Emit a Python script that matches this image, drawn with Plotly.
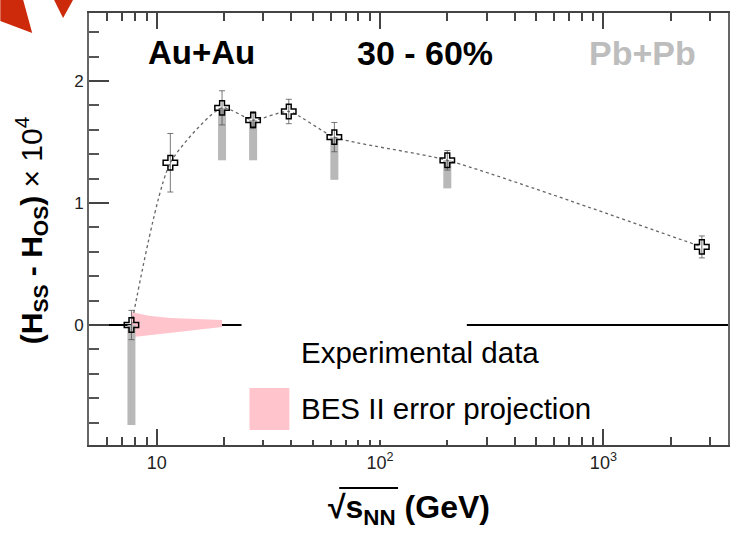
import plotly.graph_objects as go
import numpy as np

# ---- data ----
energy = [7.7, 11.5, 19.6, 27, 39, 62.4, 200, 2760]
value = [0.0, 1.33, 1.78, 1.68, 1.75, 1.54, 1.35, 0.64]
stat_err = [0.12, 0.24, 0.14, 0.07, 0.10, 0.12, 0.08, 0.09]
sys_down = [0.82, 0.0, 0.43, 0.33, 0.0, 0.35, 0.23, 0.0]

bes_energy = [7.7, 9.2, 11.5, 14.5, 19.6]
bes_upper = [0.107, 0.075, 0.057, 0.047, 0.040]
bes_lower = [-0.100, -0.085, -0.065, -0.045, -0.016]

x_major = [10, 100, 1000]
x_major_labels = ["10", "10<sup>2</sup>", "10<sup>3</sup>"]
x_minor = [5, 6, 7, 8, 9, 20, 30, 40, 50, 60, 70, 80, 90,
           200, 300, 400, 500, 600, 700, 800, 900, 2000, 3000]
y_major = [0, 1, 2]
y_major_labels = ["0", "1", "2"]
y_minor = [round(v, 1) for v in np.arange(-0.8, 2.41, 0.2)]

FONT = "Liberation Sans, Arial, Helvetica, sans-serif"

# layout geometry (pixels)
W, H = 730, 534
L, R, T, B = 89, 0, 13, 89
PW, PH = W - L - R, H - T - B


def px(x, y):
    """pixel -> paper coordinates"""
    return (x - L) / PW, (H - B - y) / PH


fig = go.Figure()

# BES II projection band
fig.add_trace(go.Scatter(
    x=bes_energy + bes_energy[::-1],
    y=bes_upper + bes_lower[::-1],
    fill="toself", fillcolor="#ffc4cc", line=dict(width=0, color="#ffc4cc"),
    mode="lines", hoverinfo="skip", showlegend=False))

# systematic bars (gray)
fig.add_trace(go.Scatter(
    x=energy, y=value, mode="markers",
    marker=dict(size=1, opacity=0),
    error_y=dict(type="data", symmetric=False, array=[0] * len(energy),
                 arrayminus=sys_down, color="#b8b8b8", thickness=8, width=0),
    showlegend=False, hoverinfo="skip"))

# connecting dotted curve
fig.add_trace(go.Scatter(
    x=energy, y=value, mode="lines",
    line=dict(color="#666666", width=1.3, dash="dot", shape="spline", smoothing=0.6),
    showlegend=False, hoverinfo="skip"))

# experimental data
fig.add_trace(go.Scatter(
    x=energy, y=value, mode="markers",
    marker=dict(symbol="cross-open", size=12, color="black",
                line=dict(width=1.5, color="black")),
    error_y=dict(type="data", array=stat_err, color="#555555", thickness=0.8, width=3),
    showlegend=False, name="Experimental data"))

# legend key on hidden overlay axes (0..1 = plot area)
k0 = px(250, 352)
k1 = px(290, 352)
fig.add_trace(go.Scatter(
    x=[k0[0], (k0[0] + k1[0]) / 2, k1[0]], y=[k0[1]] * 3,
    xaxis="x2", yaxis="y2", mode="lines+markers",
    line=dict(color="black", width=1.2),
    marker=dict(symbol="cross-open", size=[0, 9, 0], color="black",
                line=dict(width=1.3, color="black")),
    showlegend=False, hoverinfo="skip"))

shapes = []
# white legend box hiding zero line
a = px(242, 318); b = px(468, 440)
shapes.append(dict(type="rect", xref="paper", yref="paper", x0=a[0], x1=b[0],
                   y0=b[1], y1=a[1], fillcolor="white", line=dict(width=0), layer="above"))
# pink legend square
a = px(250, 388); b = px(290, 430)
shapes.append(dict(type="rect", xref="paper", yref="paper", x0=a[0], x1=b[0],
                   y0=b[1], y1=a[1], fillcolor="#ffc4cc", line=dict(width=0), layer="above"))
# overline of sqrt
a = px(340, 488); b = px(399, 488)
shapes.append(dict(type="line", xref="paper", yref="paper", x0=a[0], x1=b[0],
                   y0=a[1], y1=b[1], line=dict(color="black", width=2)))
# red decorations (top-left, from slide)
pts1 = [px(0, 0), px(23, 0), px(32, 33), px(0, 21)]
pts2 = [px(54, 0), px(73, 0), px(63, 18)]
for pts in (pts1, pts2):
    path = "M " + " L ".join(f"{p[0]:.4f},{p[1]:.4f}" for p in pts) + " Z"
    shapes.append(dict(type="path", xref="paper", yref="paper", path=path,
                       fillcolor="#cc2a0a", line=dict(width=0)))

annotations = []


def ann(text, x, y, size, color="black", xanchor="left", angle=0, bold=False):
    p = px(x, y)
    annotations.append(dict(
        text=f"<b>{text}</b>" if bold else text, x=p[0], y=p[1],
        xref="paper", yref="paper", showarrow=False, xanchor=xanchor,
        yanchor="middle", textangle=angle,
        font=dict(family=FONT, size=size, color=color)))


ann("Au+Au", 146, 53, 33, bold=True)
ann("30 - 60%", 356, 53, 34, bold=True)
ann("Pb+Pb", 589, 53, 34, color="#bdbdbd", bold=True)
ann("Experimental data", 300, 352, 29.5)
ann("BES II error projection", 300, 408, 29.5)
ann("√s<sub>NN</sub> (GeV)", 327, 509, 32, bold=True)
ann("<b>(H<sub>SS</sub> - H<sub>OS</sub>)</b> × 10<sup>4</sup>", 31, 230, 30,
    xanchor="center", angle=-90)

xr = [0.0, 0.0]
xr[0] = 1 - (157 - L) / 224.0
xr[1] = xr[0] + PW / 224.0
yr = [-(H - B - 325) / 122.0, (325 - T) / 122.0]

fig.update_layout(
    width=W, height=H, margin=dict(l=L, r=R, t=T, b=B),
    paper_bgcolor="white", plot_bgcolor="white",
    font=dict(family=FONT, color="#222222"),
    showlegend=False,
    shapes=shapes, annotations=annotations,
    xaxis=dict(type="log", range=xr, showgrid=False, zeroline=False,
               showline=True, linecolor="#444444", linewidth=2, mirror="ticks",
               ticks="inside", ticklen=16, tickwidth=1.5, tickcolor="#444444",
               tickmode="array", tickvals=x_major, ticktext=x_major_labels,
               tickfont=dict(size=18, color="#222222"),
               minor=dict(tickmode="array", tickvals=x_minor, ticks="inside",
                          ticklen=8, tickwidth=1.5, tickcolor="#444444", showgrid=False)),
    yaxis=dict(range=yr, showgrid=False, zeroline=True, zerolinecolor="black",
               zerolinewidth=2,
               showline=True, linecolor="#666666", linewidth=2, mirror=True,
               ticks="inside", ticklen=20, tickwidth=1.5, tickcolor="#444444",
               tickmode="array", tickvals=y_major, ticktext=y_major_labels,
               tickfont=dict(size=17, color="#222222"),
               minor=dict(tickmode="array", tickvals=y_minor, ticks="inside",
                          ticklen=10, tickwidth=1.5, tickcolor="#555555", showgrid=False)),
    xaxis2=dict(overlaying="x", range=[0, 1], visible=False, fixedrange=True),
    yaxis2=dict(overlaying="y", range=[0, 1], visible=False, fixedrange=True),
)

fig.write_html("out.html", config={"displayModeBar": False},
               post_script="document.body.style.margin='0';"
                           "document.body.style.overflow='hidden';")
